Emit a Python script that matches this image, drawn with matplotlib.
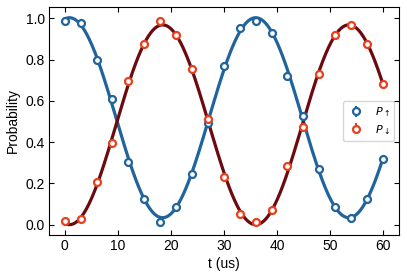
import numpy as np
import matplotlib
matplotlib.use("Agg")
import matplotlib.pyplot as plt

plt.rcParams['font.family'] = ['Liberation Sans', 'DejaVu Sans']
plt.rcParams['mathtext.fontset'] = 'dejavusans'

# данные
t = [0, 3, 6, 9, 12, 15, 18, 21, 24, 27, 30, 33, 36, 39, 42, 45, 48, 51, 54, 57, 60]
p_up = [0.987, 0.976, 0.797, 0.608, 0.305, 0.125, 0.015, 0.084, 0.247, 0.494, 0.769,
        0.953, 0.988, 0.929, 0.719, 0.528, 0.270, 0.084, 0.032, 0.125, 0.320]
p_down = [0.016, 0.028, 0.205, 0.394, 0.696, 0.874, 0.988, 0.918, 0.754, 0.511, 0.233,
          0.050, 0.013, 0.071, 0.284, 0.473, 0.732, 0.918, 0.969, 0.877, 0.680]
err_up = [0.012] * len(t)
err_down = [0.012] * len(t)

blue = '#21649c'
red_pt = '#e8401c'
red_line = '#6b0a10'


def fit_cos(x, y):
    # a*cos(wt) + b*sin(wt) + c, перебор частоты
    x = np.asarray(x, float)
    y = np.asarray(y, float)
    best = None
    for w in np.linspace(0.1, 0.3, 4001):
        A = np.column_stack([np.cos(w * x), np.sin(w * x), np.ones_like(x)])
        coef, res, *_ = np.linalg.lstsq(A, y, rcond=None)
        r = np.sum((A @ coef - y) ** 2)
        if best is None or r < best[0]:
            best = (r, w, coef)
    _, w, coef = best
    return lambda s: coef[0] * np.cos(w * s) + coef[1] * np.sin(w * s) + coef[2]


tt = np.linspace(0, 60, 600)
f_up = fit_cos(t, p_up)
f_down = fit_cos(t, p_down)

fig, ax = plt.subplots(figsize=(4.07, 2.78), dpi=100)
ax.plot(tt, f_up(tt), color=blue, linewidth=2.3, zorder=1)
ax.plot(tt, f_down(tt), color=red_line, linewidth=2.3, zorder=1)
ax.errorbar(t, p_up, yerr=err_up, fmt='o', color=blue, mfc='white', mec=blue,
            ms=5, mew=1.6, elinewidth=1.5, capsize=0, label=r'$P_\uparrow$', zorder=3)
ax.errorbar(t, p_down, yerr=err_down, fmt='o', color=red_pt, mfc='white', mec=red_pt,
            ms=5, mew=1.6, elinewidth=1.5, capsize=0, label=r'$P_\downarrow$', zorder=3)

ax.set_xlim(-3, 63)
ax.set_ylim(-0.05, 1.055)
ax.set_xticks([0, 10, 20, 30, 40, 50, 60])
ax.set_yticks([0.0, 0.2, 0.4, 0.6, 0.8, 1.0])
ax.tick_params(direction='in', top=True, right=True, labelsize=10, length=3.5, pad=3)
ax.set_xlabel('t (us)', fontsize=10, labelpad=3)
ax.set_ylabel('Probability', fontsize=10, labelpad=4)
ax.legend(loc='center right', fontsize=8, handlelength=1.6, handletextpad=0.9,
          borderpad=0.4, labelspacing=0.4, borderaxespad=0.4)

fig.subplots_adjust(left=0.12, right=0.98, top=0.975, bottom=0.155)
fig.savefig('out.png', dpi=100)
